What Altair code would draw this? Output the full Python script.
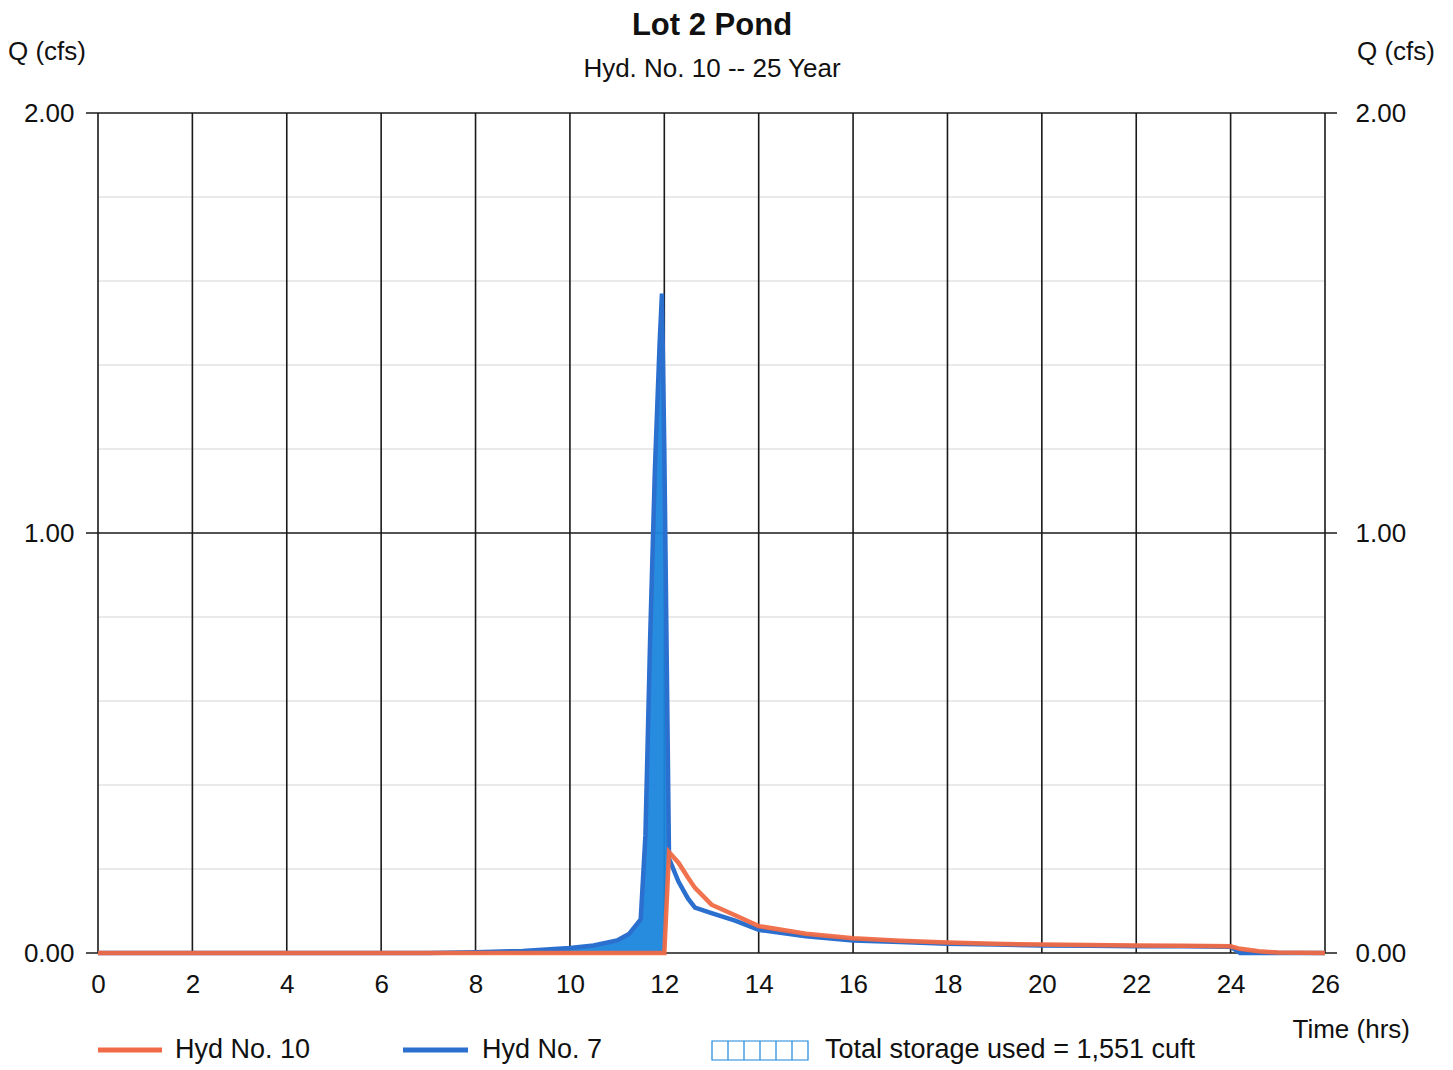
import altair as alt
import pandas as pd

# ---- data ----
hours = [0, 2, 4, 6, 7, 8, 9, 10, 10.5, 11, 11.25, 11.5, 11.6, 11.7, 11.8, 11.9, 11.95,
         12.0, 12.1, 12.3, 12.5, 12.65, 13.0, 13.5, 14, 15, 16, 17, 18, 19, 20, 21, 22,
         23, 24, 24.2, 24.6, 25, 26]
hyd7 = [0, 0, 0, 0, 0, 0.002, 0.005, 0.012, 0.018, 0.03, 0.045, 0.08, 0.28, 0.75, 1.15,
        1.45, 1.57, 1.2, 0.225, 0.17, 0.13, 0.108, 0.095, 0.077, 0.055, 0.04, 0.03,
        0.026, 0.022, 0.02, 0.018, 0.017, 0.016, 0.016, 0.015, 0.0, 0.0, 0.0, 0.0]
hyd10 = [0, 0, 0, 0, 0, 0, 0, 0, 0, 0, 0, 0, 0, 0, 0, 0, 0,
         0, 0.24, 0.215, 0.18, 0.155, 0.115, 0.09, 0.064, 0.046, 0.035, 0.029, 0.025,
         0.022, 0.02, 0.019, 0.018, 0.017, 0.016, 0.01, 0.004, 0.001, 0.0]

x_ticks = list(range(0, 27, 2))
y_major = [0, 1, 2]
y_minor = [0.2, 0.4, 0.6, 0.8, 1.2, 1.4, 1.6, 1.8]

title_text = "Lot 2 Pond"
subtitle_text = "Hyd. No. 10 -- 25 Year"
y_title = "Q (cfs)"
x_title = "Time (hrs)"
legend_labels = ["Hyd No. 10", "Hyd No. 7", "Total storage used = 1,551 cuft"]

ORANGE = "#f06a45"
BLUE = "#2b6fcf"
FILL = "#1b86dc"
FONT = "Liberation Sans"

W, H = 1227, 840

df = pd.DataFrame({"t": hours, "in": hyd7, "out": hyd10})
df_fill = df[(df["t"] >= 7) & (df["t"] <= 12.1)]

xs = alt.Scale(domain=[0, 26], nice=False)
ys = alt.Scale(domain=[0, 2], nice=False)

X_AXIS = alt.Axis(values=x_ticks, format="d", title=None, grid=False, domain=False,
                  ticks=False, labelFontSize=26, labelFont=FONT, labelColor="#111",
                  labelPadding=18, orient="bottom", labelFlush=False, labelOverlap=False)


def X(field):
    return alt.X(field, scale=xs, axis=X_AXIS)


axis_left = alt.Chart(df).mark_point(opacity=0).encode(
    x=X("t:Q"),
    y=alt.Y("in:Q", scale=ys,
            axis=alt.Axis(values=y_major, format=".2f", title=None, grid=False, domain=False,
                          ticks=False, labelFontSize=26, labelFont=FONT, labelColor="#111",
                          labelPadding=24, orient="left", labelFlush=False)),
)
axis_right = alt.Chart(df).mark_point(opacity=0).encode(
    x=X("t:Q"),
    y=alt.Y("in:Q", scale=ys,
            axis=alt.Axis(values=y_major, format=".2f", title=None, grid=False, domain=False,
                          ticks=False, labelFontSize=26, labelFont=FONT, labelColor="#111",
                          labelPadding=30, orient="right", labelFlush=False)),
)

minor = alt.Chart(pd.DataFrame({"y": y_minor})).mark_rule(
    color="#d4d4d4", strokeWidth=1
).encode(y=alt.Y("y:Q", scale=ys, axis=None))

vgrid = alt.Chart(pd.DataFrame({"t": x_ticks})).mark_rule(
    color="#1a1a1a", strokeWidth=1.6
).encode(x=X("t:Q"))

hgrid = alt.Chart(pd.DataFrame({"y": y_major})).mark_rule(
    color="#1a1a1a", strokeWidth=1.6
).encode(y=alt.Y("y:Q", scale=ys, axis=None), x=alt.value(-12), x2=alt.value(W + 12))

area = alt.Chart(df_fill).mark_area(color=FILL, opacity=0.95, interpolate="linear").encode(
    x=X("t:Q"),
    y=alt.Y("in:Q", scale=ys, axis=None),
    y2="out:Q",
)

line7 = alt.Chart(df).mark_line(color=BLUE, strokeWidth=4.5).encode(
    x=X("t:Q"), y=alt.Y("in:Q", scale=ys, axis=None)
)
line10 = alt.Chart(df).mark_line(color=ORANGE, strokeWidth=4.5, opacity=0.95).encode(
    x=X("t:Q"), y=alt.Y("out:Q", scale=ys, axis=None)
)


def txt(text, x, y, size=25, weight="normal", align="left"):
    return alt.Chart(pd.DataFrame({"s": [text]})).mark_text(
        fontSize=size, font=FONT, fontWeight=weight, align=align, baseline="middle",
        color="#111"
    ).encode(text="s:N", x=alt.value(x), y=alt.value(y))


titles = (
    txt(title_text, 614, -87, size=31, weight="bold", align="center")
    + txt(subtitle_text, 614, -44, size=26, align="center")
    + txt(y_title, -90, -61, size=26, align="left")
    + txt(y_title, W + 110, -61, size=26, align="right")
    + txt(x_title, W + 85, 917, size=26, align="right")
)

# legend
leg_y = 937


def seg(x1, x2, color):
    return alt.Chart(pd.DataFrame({"k": [0]})).mark_rule(
        color=color, strokeWidth=5
    ).encode(x=alt.value(x1), x2=alt.value(x2), y=alt.value(leg_y))


box = alt.Chart(pd.DataFrame({"k": [0]})).mark_rect(
    fill="white", stroke=FILL, strokeWidth=1.2
).encode(x=alt.value(614), x2=alt.value(710), y=alt.value(leg_y - 9), y2=alt.value(leg_y + 10))

hatch = None
for i in range(1, 6):
    r = alt.Chart(pd.DataFrame({"k": [i]})).mark_rule(color=FILL, strokeWidth=1.2).encode(
        x=alt.value(614 + i * 16), y=alt.value(leg_y - 9), y2=alt.value(leg_y + 10)
    )
    hatch = r if hatch is None else hatch + r

legend = (
    seg(0, 64, ORANGE) + txt(legend_labels[0], 77, leg_y, size=27)
    + seg(305, 370, BLUE) + txt(legend_labels[1], 384, leg_y, size=27)
    + box + hatch + txt(legend_labels[2], 727, leg_y, size=27)
)

chart = alt.layer(
    axis_left, axis_right, minor, vgrid, hgrid, area, line7, line10, titles, legend
).resolve_axis(y="independent", x="shared").properties(
    width=W, height=H,
    autosize=alt.AutoSizeParams(type="none"),
    padding={"left": 90, "top": 105, "right": 120, "bottom": 114},
    background="white",
).configure_view(stroke=None)

chart.save("out.html", embed_options={"renderer": "svg", "actions": False})
